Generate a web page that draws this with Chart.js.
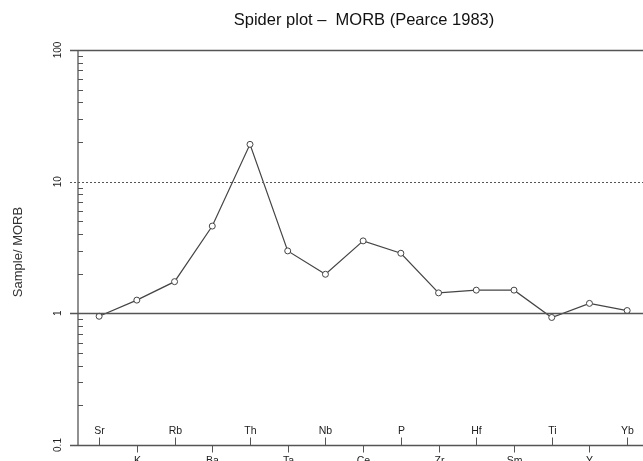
<!DOCTYPE html>
<html>
<head>
<meta charset="utf-8">
<script src="https://cdn.jsdelivr.net/npm/chart.js@4"></script>
<style>
  html, body { margin: 0; padding: 0; background: #fff; }
  canvas { display: block; }
</style>
</head>
<body>
<canvas id="spider" width="643" height="461"></canvas>
<script>
// elements in plotting order, normalised values (sample / MORB)
const elements = ['Sr', 'K', 'Rb', 'Ba', 'Th', 'Ta', 'Nb', 'Ce', 'P', 'Zr', 'Hf', 'Sm', 'Ti', 'Y', 'Yb'];
const sampleMorb = [0.95, 1.26, 1.74, 4.6, 19.2, 2.98, 1.98, 3.55, 2.86, 1.43, 1.5, 1.5, 0.93, 1.19, 1.05];
const yMajor = [0.1, 1, 10, 100];
const yMajorLabels = ['0.1', '1', '10', '100'];
const titleText = 'Spider plot \u2013  MORB (Pearce 1983)';
const yTitle = 'Sample/ MORB';

const axisColor = '#555';
const font = '"Liberation Sans", Arial, sans-serif';

// axes, ticks and labels drawn by hand, R style
const axesPlugin = {
    id: 'rAxes',
    afterDatasetsDraw(chart) {
        const c = chart.ctx;
        const xs = chart.scales.x;
        const ys = chart.scales.y;
        const area = chart.chartArea;
        c.save();
        c.strokeStyle = axisColor;
        c.fillStyle = '#222';
        c.lineWidth = 1.3;

        // vertical axis
        c.beginPath();
        c.moveTo(area.left, ys.getPixelForValue(100));
        c.lineTo(area.left, ys.getPixelForValue(0.1));
        c.stroke();

        // top + bottom frame, reference line at 1
        [100, 1, 0.1].forEach(v => {
            const py = Math.round(ys.getPixelForValue(v)) + 0.5;
            c.beginPath();
            c.moveTo(area.left - 8, py);
            c.lineTo(area.right, py);
            c.stroke();
        });

        // dotted line at 10
        c.save();
        c.setLineDash([2, 2]);
        c.lineWidth = 1;
        const p10 = Math.round(ys.getPixelForValue(10)) + 0.5;
        c.beginPath();
        c.moveTo(area.left - 8, p10);
        c.lineTo(area.right, p10);
        c.stroke();
        c.restore();

        // minor ticks, inside
        c.lineWidth = 1;
        for (let d = 0.1; d < 100; d *= 10) {
            for (let k = 2; k <= 9; k++) {
                const py = Math.round(ys.getPixelForValue(d * k)) + 0.5;
                c.beginPath();
                c.moveTo(area.left, py);
                c.lineTo(area.left + 5, py);
                c.stroke();
            }
        }

        // major labels, rotated
        c.font = '10px ' + font;
        c.textAlign = 'center';
        c.textBaseline = 'middle';
        yMajor.forEach((v, i) => {
            const py = ys.getPixelForValue(v);
            c.save();
            c.translate(area.left - 20, py);
            c.rotate(-Math.PI / 2);
            c.fillText(yMajorLabels[i], 0, 0);
            c.restore();
        });

        // element ticks, alternating above / below the axis
        const base = Math.round(ys.getPixelForValue(0.1)) + 0.5;
        c.font = '10.5px ' + font;
        elements.forEach((el, i) => {
            const px = Math.round(xs.getPixelForValue(i + 1)) + 0.5;
            c.beginPath();
            if (i % 2 === 0) {
                c.moveTo(px, base);
                c.lineTo(px, base - 8);
                c.stroke();
                c.textBaseline = 'bottom';
                c.fillText(el, px, base - 9);
            } else {
                c.moveTo(px, base);
                c.lineTo(px, base + 7);
                c.stroke();
                c.textBaseline = 'top';
                c.fillText(el, px, base + 10);
            }
        });

        // axis title
        c.font = '13px ' + font;
        c.fillStyle = '#333';
        c.save();
        c.translate(18, 252);
        c.rotate(-Math.PI / 2);
        c.textBaseline = 'middle';
        c.fillText(yTitle, 0, 0);
        c.restore();

        // main title
        c.font = '16.5px ' + font;
        c.fillStyle = '#111';
        c.textBaseline = 'middle';
        c.fillText(titleText, 364, 20);
        c.restore();
    }
};

const ctx = document.getElementById('spider').getContext('2d');
const chart = new Chart(ctx, {
    type: 'line',
    data: {
        datasets: [
            {
                label: 'Sample',
                data: sampleMorb.map((v, i) => ({ x: i + 1, y: v })),
                borderColor: '#444',
                borderWidth: 1.2,
                pointRadius: 3,
                pointBorderWidth: 1,
                pointBorderColor: '#444',
                pointBackgroundColor: '#fff',
                tension: 0,
            },
        ],
    },
    options: {
        responsive: false,
        animation: false,
        layout: { autoPadding: false, padding: { left: 78, top: 50, right: 0, bottom: 16 } },
        plugins: {
            legend: { display: false },
            tooltip: { enabled: false },
        },
        scales: {
            x: { type: 'linear', min: 0.44, max: 15.42, display: false },
            y: { type: 'logarithmic', min: 0.1, max: 100, display: false },
        },
    },
    plugins: [axesPlugin],
});
</script>
</body>
</html>
